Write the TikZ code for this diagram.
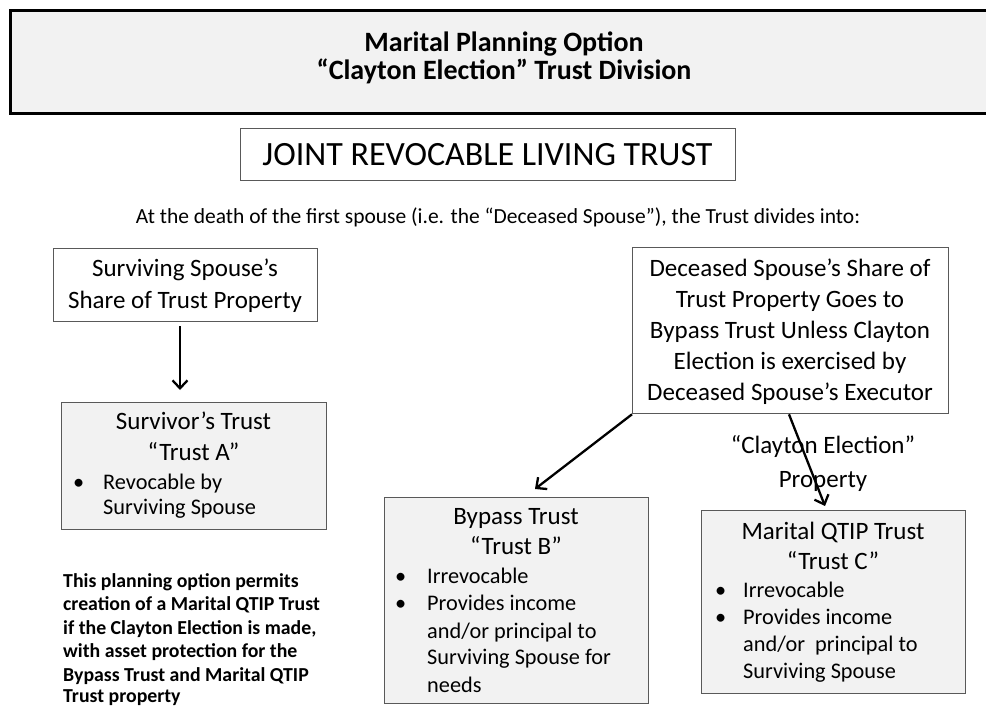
\documentclass[tikz,border=0pt]{standalone}
\usepackage{fontspec}
\setmainfont{Carlito}
\usetikzlibrary{arrows.meta}
\definecolor{boxgray}{HTML}{F2F2F2}
\definecolor{edgegray}{HTML}{595959}
\begin{document}
\begin{tikzpicture}[x=1pt,y=-1pt,
  plainbox/.style={draw=edgegray, line width=1.3pt, fill=white, anchor=north west, inner sep=0pt},
  graybox/.style={plainbox, fill=boxgray},
  titlebox/.style={draw=black, line width=3pt, fill=boxgray, anchor=north west, inner sep=0pt},
  arr/.style={line width=2.3pt, -{Straight Barb[length=8pt,width=15pt]}},
  ttl/.style={font=\fontsize{28}{28}\selectfont\bfseries, anchor=base, inner sep=0pt},
  big/.style={font=\fontsize{34}{34}\selectfont, anchor=base, inner sep=0pt},
  intro/.style={font=\fontsize{21.5}{21.5}\selectfont, anchor=base, inner sep=0pt},
  head/.style={font=\fontsize{25}{25}\selectfont, anchor=base, inner sep=0pt},
  item/.style={font=\fontsize{22.3}{22.3}\selectfont, anchor=base west, inner sep=0pt},
  note/.style={font=\fontsize{19.8}{19.8}\selectfont\bfseries, anchor=base west, inner sep=0pt}
]
\useasboundingbox (0,0) rectangle (986,706);
\fill[white] (0,0) rectangle (986,706);

% title
\node[titlebox, minimum width=991pt, minimum height=103pt] (title) at (9,9) {};
\node[ttl] (t1) at (504,52) {Marital Planning Option};
\node[ttl] (t2) at (504,80) {“Clayton Election” Trust Division};

% joint trust
\node[plainbox, minimum width=495pt, minimum height=52pt] (joint) at (240,128) {};
\node[big] (jt) at (487.5,166) {JOINT REVOCABLE LIVING TRUST};

\node[intro] (intro) at (498,223) {At the death of the first spouse (i.e. the “Deceased Spouse”), the Trust divides into:};

% surviving spouse share
\node[plainbox, minimum width=264pt, minimum height=73pt] (ss) at (53,248) {};
\node[head] (ss1) at (185,276) {Surviving Spouse’s};
\node[head] (ss2) at (185,308) {Share of Trust Property};

% deceased spouse share
\node[plainbox, minimum width=316pt, minimum height=166pt] (ds) at (632,247) {};
\node[head] (ds1) at (790,276) {Deceased Spouse’s Share of};
\node[head] (ds2) at (790,307) {Trust Property Goes to};
\node[head] (ds3) at (790,338) {Bypass Trust Unless Clayton};
\node[head] (ds4) at (790,369) {Election is exercised by};
\node[head] (ds5) at (790,400) {Deceased Spouse’s Executor};

% survivor's trust A
\node[graybox, minimum width=265pt, minimum height=127pt] (sta) at (61,402) {};
\node[head] (sta1) at (193.5,429) {Survivor’s Trust};
\node[head] (sta2) at (193.5,460) {“Trust A”};
\node[item] (stab) at (73,489) {•};
\node[item] (sta3) at (103,489) {Revocable by};
\node[item] (sta4) at (103,514) {Surviving Spouse};

% bypass trust B
\node[graybox, minimum width=264pt, minimum height=206pt] (bp) at (384,497) {};
\node[head] (bp1) at (516,524) {Bypass Trust};
\node[head] (bp2) at (516,554) {“Trust B”};
\node[item] (bpb1) at (395,583) {•};
\node[item] (bp3) at (427,583) {Irrevocable};
\node[item] (bpb2) at (395,610) {•};
\node[item] (bp4) at (427,610) {Provides income};
\node[item] (bp5) at (427,638) {and/or principal to};
\node[item] (bp6) at (427,664) {Surviving Spouse for};
\node[item] (bp7) at (427,692) {needs};

% marital QTIP trust C
\node[graybox, minimum width=264pt, minimum height=183pt] (qt) at (701,510) {};
\node[head] (qt1) at (833,539) {Marital QTIP Trust};
\node[head] (qt2) at (833,569) {“Trust C”};
\node[item] (qtb1) at (715,597) {•};
\node[item] (qt3) at (743,597) {Irrevocable};
\node[item] (qtb2) at (715,624) {•};
\node[item] (qt4) at (743,624) {Provides income};
\node[item] (qt5) at (743,651) {and/or\ \ principal to};
\node[item] (qt6) at (743,678) {Surviving Spouse};

% clayton label
\node[head] (cl1) at (823,453) {“Clayton Election”};
\node[head] (cl2) at (823,487) {Property};

% note
\node[note] (n1) at (63,587) {This planning option permits};
\node[note] (n2) at (63,610.5) {creation of a Marital QTIP Trust};
\node[note] (n3) at (63,634) {if the Clayton Election is made,};
\node[note] (n4) at (63,657.5) {with asset protection for the};
\node[note] (n5) at (63,681) {Bypass Trust and Marital QTIP};
\node[note] (n6) at (63,702) {Trust property};

% connectors
\coordinate (ax) at (180,0);
\coordinate (qx) at (789,0);
\coordinate (tipB) at (535,489);
\coordinate (tipC) at (825,506);
\draw[arr, shorten <=4pt, shorten >=12pt] (ss.south -| ax) -- (sta.north -| ax);
\draw[arr] (ds.south west) -- (tipB);
\draw[arr] (ds.south -| qx) -- (tipC);
\end{tikzpicture}
\end{document}
